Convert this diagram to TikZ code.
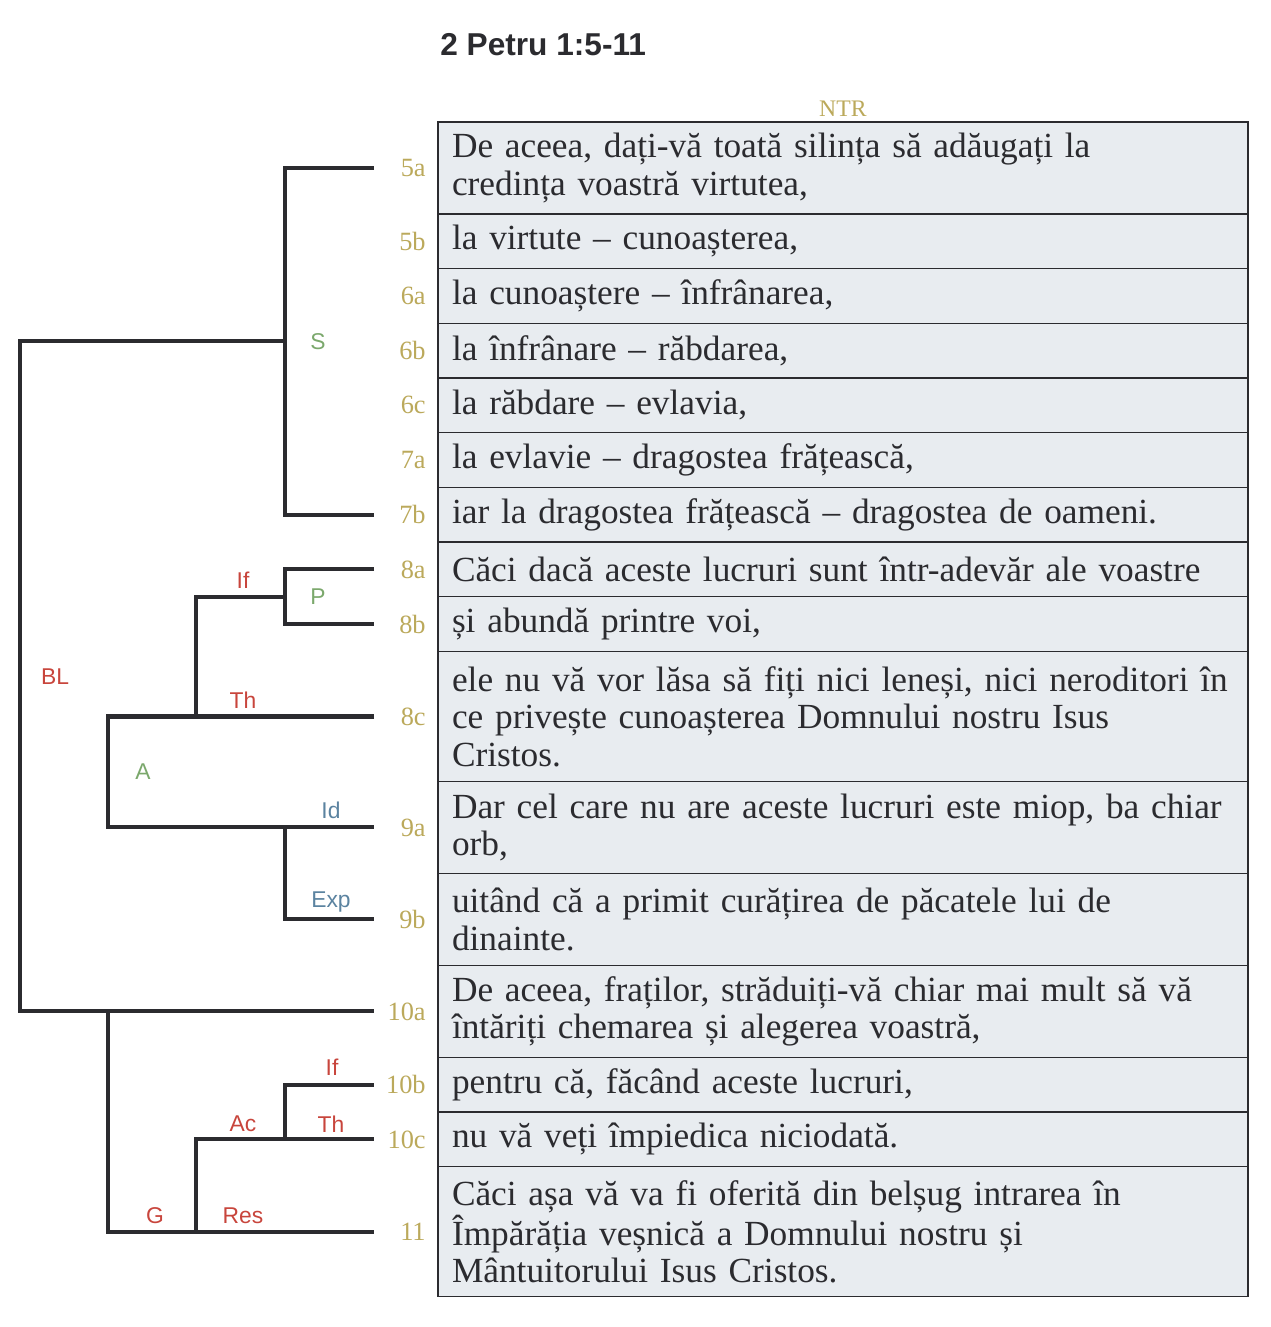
\documentclass[tikz,border=0pt]{standalone}
\usepackage{fontspec}
\setmainfont{Liberation Serif}
\newfontfamily\labelsans{Liberation Sans}
\usepackage{xcolor}
\definecolor{ink}{RGB}{43,43,47}
\definecolor{mist}{RGB}{232,236,240}
\definecolor{ochre}{RGB}{187,169,91}
\definecolor{brick}{RGB}{200,69,60}
\definecolor{sage}{RGB}{123,168,108}
\definecolor{slate}{RGB}{91,131,160}
\usepackage{tikz}
\usetikzlibrary{positioning,calc}

\begin{document}
\begin{tikzpicture}[x=0.02cm,y=-0.02cm,
  row/.style={rectangle,draw=ink,line width=0.75pt,fill=mist,
              inner xsep=0.28cm,inner ysep=0pt,outer sep=0pt,
              text width=15.64cm,minimum height=1.094cm,
              align=left,text=ink,
              font=\fontsize{20.1}{21.3}\selectfont},
  tall/.style={minimum height=1.84cm},
  taller/.style={minimum height=2.6cm},
  verse/.style={text=ochre,inner sep=0pt,
                font=\fontsize{15}{17}\selectfont},
  tag/.style={font=\labelsans\fontsize{13}{15}\selectfont,inner sep=0pt},
  tree/.style={draw=ink,line width=2.3pt},
]
  \useasboundingbox (0,0) rectangle (1270,1327);

  \node[font=\labelsans\bfseries\fontsize{18}{20}\selectfont,text=ink,
        anchor=west,inner sep=0pt] (title) at (440,45) {2 Petru 1:5-11};

  \node[row,tall,anchor=north west] (r5a) at (438,122) {%
    De aceea, dați-vă toată silința să adăugați la\\
    credința voastră virtutea,};
  \node[row,below=0pt of r5a] (r5b) {la virtute – cunoașterea,};
  \node[row,below=0pt of r5b] (r6a) {la cunoaștere – înfrânarea,};
  \node[row,below=0pt of r6a] (r6b) {la înfrânare – răbdarea,};
  \node[row,below=0pt of r6b] (r6c) {la răbdare – evlavia,};
  \node[row,below=0pt of r6c] (r7a) {la evlavie – dragostea frățească,};
  \node[row,below=0pt of r7a] (r7b) {%
    iar la dragostea frățească – dragostea de oameni.};
  \node[row,below=0pt of r7b] (r8a) {%
    Căci dacă aceste lucruri sunt într-adevăr ale voastre};
  \node[row,below=0pt of r8a] (r8b) {și abundă printre voi,};
  \node[row,taller,below=0pt of r8b] (r8c) {%
    ele nu vă vor lăsa să fiți nici leneși, nici neroditori în\\
    ce privește cunoașterea Domnului nostru Isus\\
    Cristos.};
  \node[row,tall,below=0pt of r8c] (r9a) {%
    Dar cel care nu are aceste lucruri este miop, ba chiar\\
    orb,};
  \node[row,tall,below=0pt of r9a] (r9b) {%
    uitând că a primit curățirea de păcatele lui de\\
    dinainte.};
  \node[row,tall,below=0pt of r9b] (r10a) {%
    De aceea, fraților, străduiți-vă chiar mai mult să vă\\
    întăriți chemarea și alegerea voastră,};
  \node[row,below=0pt of r10a] (r10b) {pentru că, făcând aceste lucruri,};
  \node[row,below=0pt of r10b] (r10c) {nu vă veți împiedica niciodată.};
  \node[row,taller,below=0pt of r10c] (r11) {%
    Căci așa vă va fi oferită din belșug intrarea în\\
    Împărăția veșnică a Domnului nostru și\\
    Mântuitorului Isus Cristos.};

  \node[verse,font=\fontsize{13.5}{15}\selectfont,above=0.1cm of r5a] (ntr) {NTR};

  \foreach \v in {5a,5b,6a,6b,6c,7a,7b,8a,8b,8c,9a,9b,10a,10b,10c,11}{%
    \node[verse,left=0.24cm of r\v] (v\v) {\v};
    \coordinate (t\v) at ($(r\v.west)+(-64,0)$);}

  \coordinate (c0) at (20,0);
  \coordinate (c1) at (108,0);
  \coordinate (c2) at (196,0);
  \coordinate (c3) at (285,0);
  \coordinate (jS) at ($(c3 |- t5a)!0.5!(c3 |- t7b)$);
  \coordinate (jP) at ($(c3 |- t8a)!0.5!(c3 |- t8b)$);

  \draw[tree] (t5a) -- (c3 |- t5a) -- (c3 |- t7b) -- (t7b);
  \draw[tree] (jS) -- (c0 |- jS) -- (c0 |- t10a) -- (t10a);
  \draw[tree] (t8a) -- (c3 |- t8a) -- (c3 |- t8b) -- (t8b);
  \draw[tree] (jP) -- (c2 |- jP) -- (c2 |- t8c);
  \draw[tree] (t8c) -- (c1 |- t8c) -- (c1 |- t9a) -- (t9a);
  \draw[tree] (c3 |- t9a) -- (c3 |- t9b) -- (t9b);
  \draw[tree] (c1 |- t10a) -- (c1 |- t11) -- (t11);
  \draw[tree] (c2 |- t11) -- (c2 |- t10c) -- (t10c);
  \draw[tree] (c3 |- t10c) -- (c3 |- t10b) -- (t10b);

  \node[tag,text=brick] (lBL) at (55,677) {BL};
  \node[tag,text=sage] (lS) at (318,342) {S};
  \node[tag,text=brick] (lIf) at (243,580) {If};
  \node[tag,text=sage] (lP) at (318,597) {P};
  \node[tag,text=brick] (lTh) at (243,700) {Th};
  \node[tag,text=sage] (lA) at (143,772) {A};
  \node[tag,text=slate] (lId) at (331,810) {Id};
  \node[tag,text=slate] (lExp) at (331,902) {Exp};
  \node[tag,text=brick] (lIfb) at (332,1067) {If};
  \node[tag,text=brick] (lAc) at (243,1124) {Ac};
  \node[tag,text=brick] (lThb) at (331,1124) {Th};
  \node[tag,text=brick] (lG) at (155,1216) {G};
  \node[tag,text=brick] (lRes) at (243,1216) {Res};
\end{tikzpicture}
\end{document}
